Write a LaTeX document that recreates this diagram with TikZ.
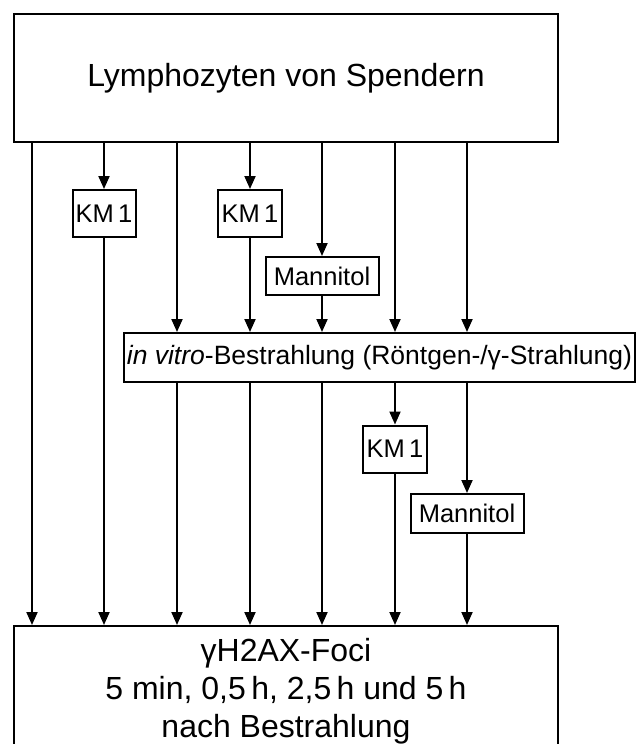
\documentclass[tikz,border=0pt]{standalone}
\usepackage{fontspec}
\setmainfont{Liberation Sans}
\usetikzlibrary{positioning,arrows.meta}

\begin{document}
\begin{tikzpicture}[x=1pt, y=-1pt, line width=2pt,
    >={Triangle[length=13pt,width=11pt]},
    bigbox/.style={draw, inner sep=0pt, minimum width=544pt,
      font=\fontsize{32}{38}\selectfont, align=center},
    smallbox/.style={draw, inner sep=0pt, minimum height=47pt,
      font=\fontsize{25.5}{30}\selectfont}]
  \useasboundingbox (0, 0) rectangle (637, 744);
  % columns
  \coordinate (c1) at (32, 0);
  \coordinate (c2) at (104, 0);
  \coordinate (c3) at (177, 0);
  \coordinate (c4) at (250, 0);
  \coordinate (c5) at (322, 0);
  \coordinate (c6) at (395, 0);
  \coordinate (c7) at (467, 0);

  \node[bigbox, minimum height=128pt] (donors) at (286, 78)
    {Lymphozyten von Spendern};
  \node[bigbox, minimum height=131pt] (foci) at (286, 691.5)
    {γH2AX-Foci\\5 min, 0,5\,h, 2,5\,h und 5\,h\\nach Bestrahlung};
  \node[smallbox, minimum width=511pt, minimum height=49pt,
    font=\fontsize{26.5}{30}\selectfont] (irrad) at (379.5, 357.5)
    {\textit{in vitro}-Bestrahlung (Röntgen-/γ-Strahlung)};

  \node[smallbox, minimum width=63pt] (kmA) at (104, 213.5) {KM\,1};
  \node[smallbox, minimum width=64pt] (kmB) at (250, 213.5) {KM\,1};
  \node[smallbox, minimum width=113pt, minimum height=38pt] (manA) at (322, 276) {Mannitol};
  \node[smallbox, minimum width=64pt] (kmC) at (395, 449) {KM\,1};
  \node[smallbox, minimum width=113pt, minimum height=39pt] (manB) at (467, 513.5) {Mannitol};

  % ohne Behandlung
  \draw[->] (donors.south -| c1) -- (foci.north -| c1);
  % KM1 ohne Bestrahlung
  \draw[->] (donors.south -| c2) -- (kmA);
  \draw[->] (kmA) -- (foci.north -| c2);
  % Bestrahlung
  \draw[->] (donors.south -| c3) -- (irrad.north -| c3);
  \draw[->] (irrad.south -| c3) -- (foci.north -| c3);
  % KM1 vor Bestrahlung
  \draw[->] (donors.south -| c4) -- (kmB);
  \draw[->] (kmB) -- (irrad.north -| c4);
  \draw[->] (irrad.south -| c4) -- (foci.north -| c4);
  % Mannitol vor Bestrahlung
  \draw[->] (donors.south -| c5) -- (manA);
  \draw[->] (manA) -- (irrad.north -| c5);
  \draw[->] (irrad.south -| c5) -- (foci.north -| c5);
  % KM1 nach Bestrahlung
  \draw[->] (donors.south -| c6) -- (irrad.north -| c6);
  \draw[->] (irrad.south -| c6) -- (kmC);
  \draw[->] (kmC) -- (foci.north -| c6);
  % Mannitol nach Bestrahlung
  \draw[->] (donors.south -| c7) -- (irrad.north -| c7);
  \draw[->] (irrad.south -| c7) -- (manB);
  \draw[->] (manB) -- (foci.north -| c7);
\end{tikzpicture}
\end{document}
